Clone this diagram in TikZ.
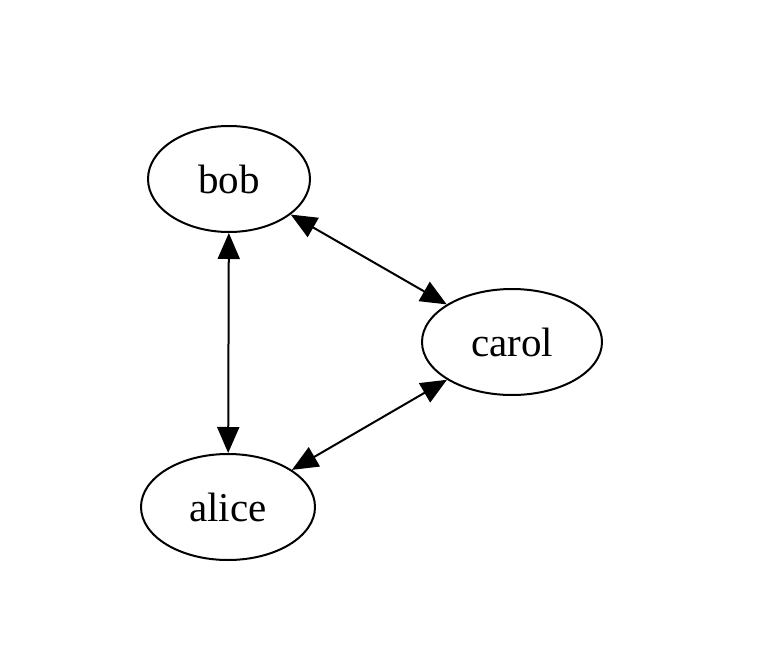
\documentclass[tikz,border=0pt]{standalone}
\usepackage{fontspec}
\setmainfont{Liberation Serif}
\usetikzlibrary{shapes.geometric,arrows.meta}

\begin{document}
\begin{tikzpicture}[x=1pt,y=-1pt,
        person/.style={ellipse,draw,line width=2pt,minimum width=162pt,minimum height=106pt,
          inner sep=0pt,font=\fontsize{41}{44}\selectfont},
        link/.style={line width=2pt,{Triangle[length=26pt,width=22pt]}-{Triangle[length=26pt,width=22pt]}}]
   \useasboundingbox (0,0) rectangle (759,671);
   \node[person] (bob) at (229,179) {bob};
   \node[person,minimum width=180pt] (carol) at (512,342) {carol};
   \node[person,minimum width=174pt] (alice) at (228,507) {alice};

   \draw[link] (bob) -- (alice);
   \draw[link] (bob) -- (carol);
   \draw[link] (carol) -- (alice);
\end{tikzpicture}
\end{document}
